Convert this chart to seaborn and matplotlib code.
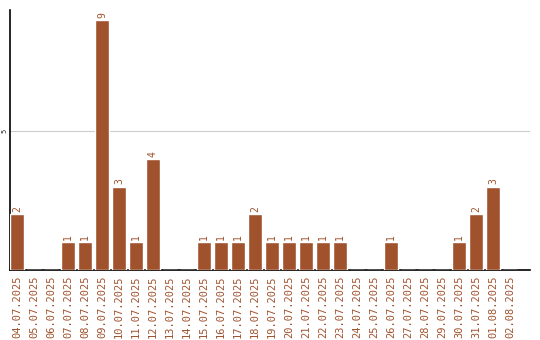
import matplotlib
matplotlib.use("Agg")
import matplotlib.pyplot as plt
import seaborn as sns
import pandas as pd

dates = ["04.07.2025", "05.07.2025", "06.07.2025", "07.07.2025", "08.07.2025",
         "09.07.2025", "10.07.2025", "11.07.2025", "12.07.2025", "13.07.2025",
         "14.07.2025", "15.07.2025", "16.07.2025", "17.07.2025", "18.07.2025",
         "19.07.2025", "20.07.2025", "21.07.2025", "22.07.2025", "23.07.2025",
         "24.07.2025", "25.07.2025", "26.07.2025", "27.07.2025", "28.07.2025",
         "29.07.2025", "30.07.2025", "31.07.2025", "01.08.2025", "02.08.2025"]
counts = [2, 0, 0, 1, 1, 9, 3, 1, 4, 0, 0, 1, 1, 1, 2,
          1, 1, 1, 1, 1, 0, 0, 1, 0, 0, 0, 1, 2, 3, 0]
yticks = [5]

color = "#A0522D"
sns.set_style("white")
plt.rcParams["font.family"] = ["DejaVu Sans Mono", "DejaVu Sans"]

df = pd.DataFrame({"date": dates, "count": counts})

fig = plt.figure(figsize=(5.4, 3.4), dpi=100)
ax = fig.add_axes([10/540, 1 - 270/340, 520/540, 260/340])
sns.barplot(data=df, x="date", y="count", color=color, saturation=1,
            width=0.82, ax=ax, zorder=3)

for i, v in enumerate(counts):
    if v > 0:
        ax.text(i, v + 0.08, str(v), rotation=90, ha="center", va="bottom",
                color=color, fontsize=7)

ax.set_xlim(-0.41, 30.18)
ax.set_ylim(0, 9.35)
ax.set_yticks(yticks)
ax.set_yticklabels([str(t) for t in yticks], rotation=90, va="center",
                   ha="right", fontsize=5)
ax.yaxis.grid(True, color="#cccccc", linewidth=0.8, zorder=0)
ax.tick_params(axis="x", labelrotation=90, labelsize=7.5, labelcolor=color,
               length=0, pad=4)
ax.tick_params(axis="y", length=0, pad=1.5)
ax.set_xlabel("")
ax.set_ylabel("")
for s in ["top", "right"]:
    ax.spines[s].set_visible(False)
for s in ["left", "bottom"]:
    ax.spines[s].set_color("black")
    ax.spines[s].set_linewidth(1.2)

fig.savefig("out.png", dpi=100)
